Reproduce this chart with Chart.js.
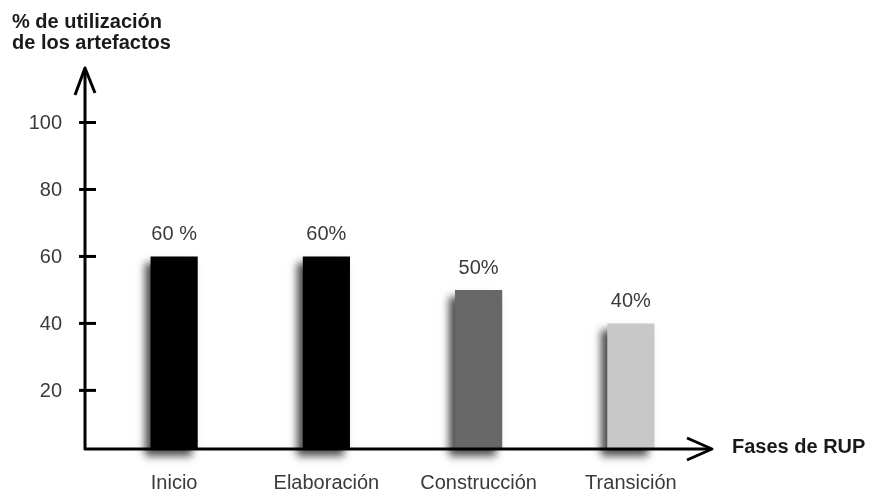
<!DOCTYPE html>
<html>
<head>
<meta charset="utf-8">
<title>Utilización de los artefactos por fase de RUP</title>
<script src="https://cdn.jsdelivr.net/npm/chart.js@4/dist/chart.umd.min.js"></script>
<style>
  html, body { margin: 0; padding: 0; background: #ffffff; }
  #wrap { width: 872px; height: 493px; position: relative; }
</style>
</head>
<body>
<div id="wrap"><canvas id="chart"></canvas></div>
<script>
// Phases of the Rational Unified Process and the share of artefacts used in each
const phases = ['Inicio', 'Elaboración', 'Construcción', 'Transición'];
const usage = [60, 60, 50, 40];
const usageLabels = ['60 %', '60%', '50%', '40%'];
const barColors = ['#000000', '#000000', '#676767', '#c8c8c8'];
const yTicks = [20, 40, 60, 80, 100];
const yTitle = ['% de utilización', 'de los artefactos'];
const xTitle = 'Fases de RUP';

// the horizontal axis sits a little above zero, bars stand on it
const AXIS_FLOOR = 2.5;
const FONT = '"Liberation Sans", Arial, Helvetica, sans-serif';
const TEXT = '#3a3a3a';

// Soft drop shadow behind each bar (down and to the left)
const barShadow = {
  id: 'barShadow',
  beforeDatasetsDraw(chart) {
    const ctx = chart.ctx;
    ctx.save();
    ctx.shadowColor = 'rgba(0,0,0,0.7)';
    ctx.shadowBlur = 8;
    ctx.shadowOffsetX = -6;
    ctx.shadowOffsetY = 7;
  },
  afterDatasetsDraw(chart) {
    const ctx = chart.ctx;
    ctx.restore();
    // value labels above the bars
    const meta = chart.getDatasetMeta(0);
    ctx.save();
    ctx.fillStyle = TEXT;
    ctx.font = '20px ' + FONT;
    ctx.textAlign = 'center';
    ctx.textBaseline = 'alphabetic';
    meta.data.forEach((bar, i) => {
      ctx.fillText(usageLabels[i], bar.x, bar.y - 16);
    });
    ctx.restore();
  }
};

// Hand-drawn style axes: thick lines with open arrow heads, crossing tick marks
const arrowAxes = {
  id: 'arrowAxes',
  afterDraw(chart) {
    const { ctx, chartArea: a, scales: { x, y } } = chart;
    const ax = a.left - 13;
    const ay = y.getPixelForValue(AXIS_FLOOR);
    const top = a.top - 21;
    const right = a.right + 5;

    ctx.save();
    ctx.strokeStyle = '#000';
    ctx.lineWidth = 3;
    ctx.lineJoin = 'round';
    ctx.lineCap = 'butt';

    ctx.beginPath();
    ctx.moveTo(ax, top + 2);
    ctx.lineTo(ax, ay);
    ctx.lineTo(right - 2, ay);
    ctx.stroke();

    ctx.beginPath();
    ctx.moveTo(ax - 10, top + 27);
    ctx.lineTo(ax, top);
    ctx.lineTo(ax + 10, top + 25);
    ctx.stroke();

    ctx.beginPath();
    ctx.moveTo(right - 25, ay - 11);
    ctx.lineTo(right, ay);
    ctx.lineTo(right - 25, ay + 11);
    ctx.stroke();

    ctx.fillStyle = TEXT;
    ctx.font = '20px ' + FONT;
    ctx.textAlign = 'right';
    ctx.textBaseline = 'middle';
    yTicks.forEach(v => {
      const py = y.getPixelForValue(v);
      ctx.beginPath();
      ctx.moveTo(ax - 6, py);
      ctx.lineTo(ax + 11, py);
      ctx.stroke();
      ctx.fillText(String(v), ax - 23, py + 1);
    });

    // category names under the axis
    ctx.textAlign = 'center';
    ctx.textBaseline = 'alphabetic';
    phases.forEach((p, i) => {
      ctx.fillText(p, x.getPixelForValue(i), ay + 40);
    });

    // axis titles
    ctx.fillStyle = '#1a1a1a';
    ctx.font = 'bold 20px ' + FONT;
    ctx.textAlign = 'left';
    ctx.fillText(yTitle[0], 12, 28);
    ctx.fillText(yTitle[1], 12, 49);
    ctx.fillText(xTitle, right + 20, ay + 4);
    ctx.restore();
  }
};

new Chart(document.getElementById('chart'), {
  type: 'bar',
  data: {
    labels: phases,
    datasets: [{
      data: usage,
      base: AXIS_FLOOR,
      backgroundColor: barColors,
      borderWidth: 0,
      barPercentage: 0.31,
      categoryPercentage: 1,
      clip: false
    }]
  },
  options: {
    responsive: true,
    maintainAspectRatio: false,
    animation: false,
    events: [],
    layout: { padding: { left: 98, right: 165, top: 89, bottom: 44 } },
    plugins: {
      legend: { display: false },
      title: { display: false },
      tooltip: { enabled: false }
    },
    scales: {
      x: { display: false, offset: true },
      y: { display: false, min: AXIS_FLOOR, max: 110 }
    }
  },
  plugins: [barShadow, arrowAxes]
});
</script>
</body>
</html>
